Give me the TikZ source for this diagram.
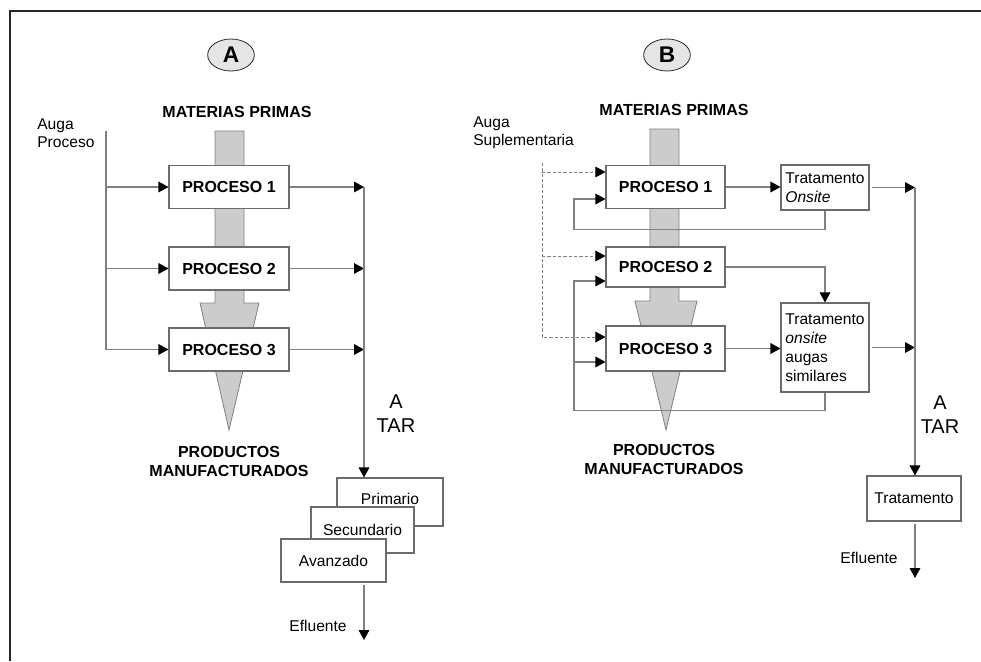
\documentclass[tikz,border=0pt]{standalone}
\usepackage{fontspec}
\setmainfont{Liberation Sans}
\usetikzlibrary{arrows.meta,shapes.geometric}
\definecolor{linegray}{gray}{0.5}
\definecolor{boxgray}{gray}{0.42}
\definecolor{arrowfill}{gray}{0.8}
\definecolor{badgefill}{gray}{0.9}
\begin{document}
\begin{tikzpicture}[x=0.75pt,y=-0.75pt,
  line/.style={draw=linegray, line width=0.8pt},
  arr/.style={line, -{Triangle[length=7.5pt,width=8pt,color=black]}},
  dline/.style={line, line width=0.6pt, dash pattern=on 2.6pt off 1.4pt, -{Triangle[length=7.5pt,width=8pt,color=black]}},
  pbox/.style={draw=boxgray, fill=white, line width=0.8pt, inner sep=0pt, minimum width=90pt, minimum height=32.25pt, font=\fontsize{12}{14}\selectfont\bfseries},
  tbox/.style={draw=boxgray, fill=white, line width=0.8pt, inner sep=0pt, align=left, font=\fontsize{11.7}{14.25}\selectfont},
  lbl/.style={inner sep=0pt, font=\fontsize{11.7}{13.5}\selectfont},
  blbl/.style={inner sep=0pt, align=center, font=\fontsize{12}{14.3}\selectfont\bfseries},
  tar/.style={inner sep=0pt, align=center, font=\fontsize{15}{18}\selectfont},
  badge/.style={ellipse, draw=black!85, line width=0.6pt, fill=badgefill, minimum width=35pt, minimum height=24pt, inner sep=0pt, font=\fontsize{17}{17}\selectfont\bfseries},
  bigarrow/.style={fill=arrowfill, draw=linegray, line width=0.6pt}
]
\useasboundingbox (0,0) rectangle (981,661);
% frame
\draw[line width=1.4pt, black!85] (10,661) -- (10,11) -- (981,11);

% ================= PANEL A =================
\node[badge] (badgeA) at (231,55) {A};
\node[blbl] (mpA) at (237,112) {MATERIAS PRIMAS};
\node[lbl, align=left, anchor=west] (augaA) at (37,133) {Auga\\Proceso};
\draw[bigarrow] (215,131) -- (244,131) -- (244,303) -- (259,303) -- (229,430) -- (200,303) -- (215,303) -- cycle;
\node[blbl] (prodA) at (229,461.5) {PRODUCTOS\\MANUFACTURADOS};

\node[pbox] (A1) at (229,187) {PROCESO 1};
\node[pbox] (A2) at (229,268.5) {PROCESO 2};
\node[pbox] (A3) at (229,349.5) {PROCESO 3};

\coordinate (aTop) at (106,131);
\draw[arr] (aTop) |- (A3.west);
\draw[arr] (aTop |- A1.west) -- (A1.west);
\draw[arr] (aTop |- A2.west) -- (A2.west);

\coordinate (aR) at (364,0);
\node[tbox, minimum width=79.5pt, minimum height=36pt] (prim) at (390,502) {\raisebox{5pt}{Primario}};
\node[tbox, minimum width=77.25pt, minimum height=34.5pt] (secu) at (362.5,530) {Secundario};
\node[tbox, minimum width=78.75pt, minimum height=32.25pt] (avan) at (333.5,560.5) {Avanzado};

\draw[arr] (A1.east) -- (A1.east -| aR);
\draw[arr] (A2.east) -- (A2.east -| aR);
\draw[arr] (A3.east) -- (A3.east -| aR);
\draw[arr] (A1.east -| aR) -- (aR |- prim.north);
\node[tar] (tarA) at (396,414) {A\\TAR};

\coordinate (efA) at (364,640);
\draw[arr] ([yshift=-2pt]aR |- avan.south) -- (efA);
\node[lbl] (efluA) at (318,626) {Efluente};

% ================= PANEL B =================
\node[badge] (badgeB) at (667,55) {B};
\node[blbl] (mpB) at (674,110) {MATERIAS PRIMAS};
\node[lbl, align=left, anchor=west] (augaB) at (473,133) {Auga\\Suplementaria};
\draw[bigarrow] (650,129) -- (679,129) -- (679,301) -- (697,301) -- (666,430) -- (635,301) -- (650,301) -- cycle;
\node[blbl] (prodB) at (664,459.5) {PRODUCTOS\\MANUFACTURADOS};

\coordinate (fbx) at (574,0);
\coordinate (dTop) at (542,163);

\node[tbox, minimum width=66pt, minimum height=33.75pt] (TO1) at (825,187.5) {Tratamento\\\textit{Onsite}};
\node[tbox, minimum width=66pt, minimum height=66.75pt] (TO2) at (825,347.5) {Tratamento\\\textit{onsite}\\augas\\similares};

\node[pbox, minimum width=89.25pt, minimum height=32.25pt] (B1) at (665.5,187) {PROCESO 1};
\node[pbox, minimum width=89.25pt, minimum height=30pt] (B2) at (665.5,267) {PROCESO 2};
\node[pbox, minimum width=89.25pt, minimum height=33.75pt] (B3) at (665.5,348.5) {PROCESO 3};

\draw[arr] (TO1.south) -- ++(0,19) -| ([yshift=-9pt]B1.west -| fbx) -- ([yshift=-9pt]B1.west);
\draw[arr] (TO2.south) -- ++(0,18) -| ([yshift=-10.5pt]B2.west -| fbx) -- ([yshift=-10.5pt]B2.west);
\draw[arr] ([yshift=-10.1pt]B3.west -| fbx) -- ([yshift=-10.1pt]B3.west);

\draw[dline] (dTop) |- ([yshift=8.6pt]B3.west);
\draw[dline] ([yshift=11.25pt]B1.west -| dTop) -- ([yshift=11.25pt]B1.west);
\draw[dline] ([yshift=8.25pt]B2.west -| dTop) -- ([yshift=8.25pt]B2.west);

\draw[arr] (B1.east) -- (B1.east -| TO1.west);
\draw[arr] (B2.east) -| (TO2.north);
\draw[arr] (B3.east) -- (B3.east -| TO2.west);

\coordinate (bR) at (915,0);
\node[tbox, minimum width=70.5pt, minimum height=33.75pt] (TB) at (914,498.5) {Tratamento};
\draw[arr] ([xshift=1.5pt]TO1.east) -- (TO1.east -| bR);
\draw[arr] ([xshift=1.5pt]TO2.east) -- (TO2.east -| bR);
\draw[arr] (TO1.east -| bR) -- (bR |- TB.north);
\node[tar] (tarB) at (940,415) {A\\TAR};

\coordinate (efB) at (915,578);
\draw[arr] ([yshift=-1.5pt]bR |- TB.south) -- (efB);
\node[lbl] (efluB) at (869,558) {Efluente};
\end{tikzpicture}
\end{document}
